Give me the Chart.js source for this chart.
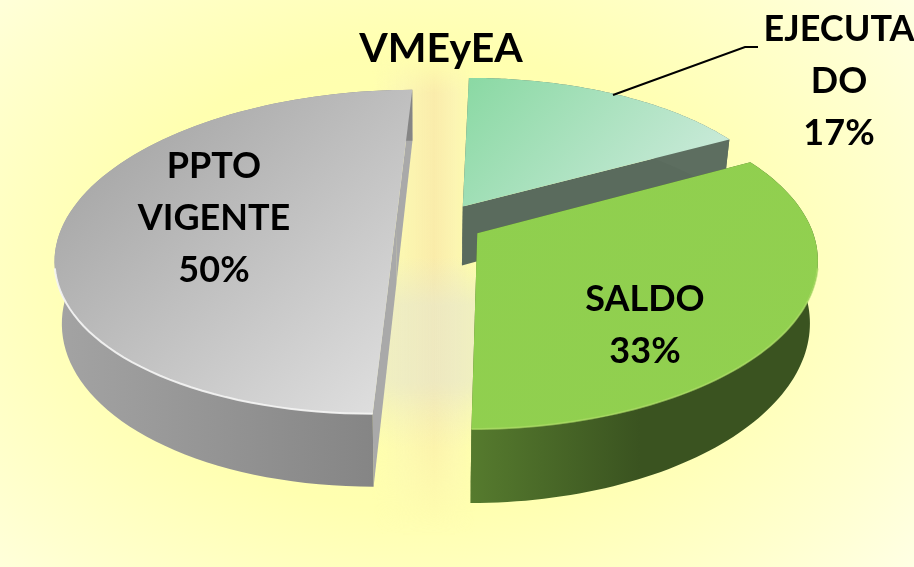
<!DOCTYPE html>
<html>
<head>
<meta charset="utf-8">
<script src="https://cdn.jsdelivr.net/npm/chart.js@4"></script>
<style>
html, body { margin: 0; padding: 0; width: 914px; height: 567px; overflow: hidden; }
body {
  background: radial-gradient(ellipse 560px 420px at 420px 280px, #ffffa8 0%, #ffffb0 55%, #ffffcf 90%, #ffffea 118%);
}
#mark {
  position: absolute; left: 372px; top: 55px; width: 104px; height: 480px;
  background:
    linear-gradient(180deg, rgba(230,230,205,0) 42%, rgba(230,230,205,.6) 52%, rgba(230,230,205,.6) 68%, rgba(230,230,205,0) 82%),
    linear-gradient(90deg, rgba(248,235,175,0) 0, rgba(248,238,185,.5) 30%, rgba(248,228,170,.7) 60%, rgba(248,235,185,.5) 80%, rgba(248,235,175,0) 100%);
  -webkit-mask-image: linear-gradient(180deg, transparent 0, #000 8%, #000 70%, transparent 100%);
  mask-image: linear-gradient(180deg, transparent 0, #000 8%, #000 70%, transparent 100%);
}
#chartBox { position: absolute; left: 0; top: 0; width: 914px; height: 567px; }
</style>
</head>
<body>
<div id="mark"></div>
<div id="chartBox"><canvas id="myChart" width="914" height="567"></canvas></div>
<script>
'use strict';

let categories = ['EJECUTADO', 'SALDO', 'PPTO VIGENTE'];
let percentValues = [17, 33, 50];
let labelLines = [['EJECUTA', 'DO'], ['SALDO'], ['PPTO', 'VIGENTE']];
let chartTitle = 'VMEyEA';

// screen layout of the tilted pie
let radiusPx = 332;
let stretchV = 1.015;
let horizonY = -660;
let vanishX = 504;
let centerX = 441;
let groundH = 883;
let tilt = 0.175;
let depth = 60;
let sliceOffsets = [33, 34, 36];
let labelSpots = [[839, 41], [645, 311], [214, 178]];

let faceColors = [['#8bd9a4', '#c6e9d6'], ['#8fcf4e', '#92d050'], ['#a6a6a6', '#dedede']];
let faceBoxes = [[470, 80, 640, 230], [480, 170, 800, 420], [130, 110, 390, 400]];
let wallColors = [['#5d6e60', '#5d6e60'], ['#567b2e', '#3a5320'], ['#a3a3a3', '#858585']];
let wallSpans = [[460, 730], [470, 640], [60, 375]];
let cutColors = ['#5a6b5d', '#4c6b28', '#a9a9a9'];
let rimColors = ['rgba(0,0,0,0)', 'rgba(170,220,100,.7)', 'rgba(245,245,245,.9)'];

function project(arc, radius, angle, low) {
    let scale = radiusPx / arc.outerRadius;
    let mid = (arc.startAngle + arc.endAngle) / 2 + Math.PI / 2;
    let th = angle + Math.PI / 2;
    let off = arc.options.offset * scale;
    let u = off * Math.sin(mid) + radius * scale * Math.sin(th);
    let v = (off * Math.cos(mid) + radius * scale * Math.cos(th)) * stretchV;
    let w = 1 + tilt * v / radiusPx;
    let x = vanishX + (centerX + u - vanishX) / w;
    let y = horizonY + groundH / w;
    if (low) {
        x = 420 + (x - 420) * 0.98;
        y += depth / w;
    }
    return [x, y];
}

function arcPoints(arc, low) {
    let pts = [];
    let steps = 90;
    for (let i = 0; i <= steps; i++) {
        let a = arc.startAngle + (arc.endAngle - arc.startAngle) * i / steps;
        pts.push(project(arc, arc.outerRadius, a, low));
    }
    return pts;
}

function fillPoly(ctx, pts, style) {
    ctx.beginPath();
    pts.forEach(function (p, i) {
        if (i === 0) ctx.moveTo(p[0], p[1]);
        else ctx.lineTo(p[0], p[1]);
    });
    ctx.closePath();
    ctx.fillStyle = style;
    ctx.fill();
}

function drawSlice(ctx, arc, i) {
    let top = arcPoints(arc, false);
    let bottom = arcPoints(arc, true);
    let apexTop = project(arc, 0, arc.startAngle, false);
    let apexLow = project(arc, 0, arc.startAngle, true);

    // cut faces
    fillPoly(ctx, [apexTop, top[0], bottom[0], apexLow], cutColors[i]);
    fillPoly(ctx, [apexTop, top[top.length - 1], bottom[bottom.length - 1], apexLow], cutColors[i]);

    // outer wall
    let wall = ctx.createLinearGradient(wallSpans[i][0], 0, wallSpans[i][1], 0);
    wall.addColorStop(0, wallColors[i][0]);
    wall.addColorStop(1, wallColors[i][1]);
    fillPoly(ctx, top.concat(bottom.slice().reverse()), wall);

    // top face
    let box = faceBoxes[i];
    let face = ctx.createLinearGradient(box[0], box[1], box[2], box[3]);
    face.addColorStop(0, faceColors[i][0]);
    face.addColorStop(1, faceColors[i][1]);
    fillPoly(ctx, [apexTop].concat(top), face);

    // bevel along the front of the rim only
    let front = top.filter(function (p) { return p[1] > 265; });
    if (front.length > 1) {
        ctx.beginPath();
        front.forEach(function (p, n) {
            if (n === 0) ctx.moveTo(p[0], p[1]);
            else ctx.lineTo(p[0], p[1]);
        });
        ctx.strokeStyle = rimColors[i];
        ctx.lineWidth = 2;
        ctx.stroke();
    }
}

let pie3d = {
    id: 'pie3d',
    beforeDatasetsDraw: function (chart) {
        let ctx = chart.ctx;
        let arcs = chart.getDatasetMeta(0).data;
        ctx.save();
        [0, 2, 1].forEach(function (i) {
            drawSlice(ctx, arcs[i], i);
        });
        ctx.restore();
        return false;
    },
    afterDraw: function (chart) {
        let ctx = chart.ctx;
        ctx.save();
        ctx.fillStyle = '#000';
        ctx.textAlign = 'center';
        ctx.textBaseline = 'alphabetic';

        ctx.font = 'bold 41px Lato';
        ctx.fillText(chartTitle, 441, 62);

        ctx.font = 'bold 36px Lato';
        labelLines.forEach(function (lines, i) {
            let rows = lines.concat([percentValues[i] + '%']);
            rows.forEach(function (row, r) {
                ctx.fillText(row, labelSpots[i][0], labelSpots[i][1] + r * 52);
            });
        });

        // leader line for the EJECUTADO label
        ctx.strokeStyle = '#000';
        ctx.lineWidth = 2;
        ctx.beginPath();
        ctx.moveTo(613, 95);
        ctx.lineTo(745, 47);
        ctx.lineTo(758, 47);
        ctx.stroke();
        ctx.restore();
    }
};

let ctx = document.getElementById('myChart').getContext('2d');
let myChart = new Chart(ctx, {
    type: 'pie',
    data: {
        labels: categories,
        datasets: [{
            data: percentValues,
            backgroundColor: faceColors.map(function (c) { return c[1]; }),
            borderWidth: 0,
            offset: sliceOffsets
        }]
    },
    options: {
        responsive: false,
        animation: false,
        rotation: 0,
        plugins: {
            legend: { display: false },
            tooltip: { enabled: false }
        }
    },
    plugins: [pie3d]
});
</script>
</body>
</html>
